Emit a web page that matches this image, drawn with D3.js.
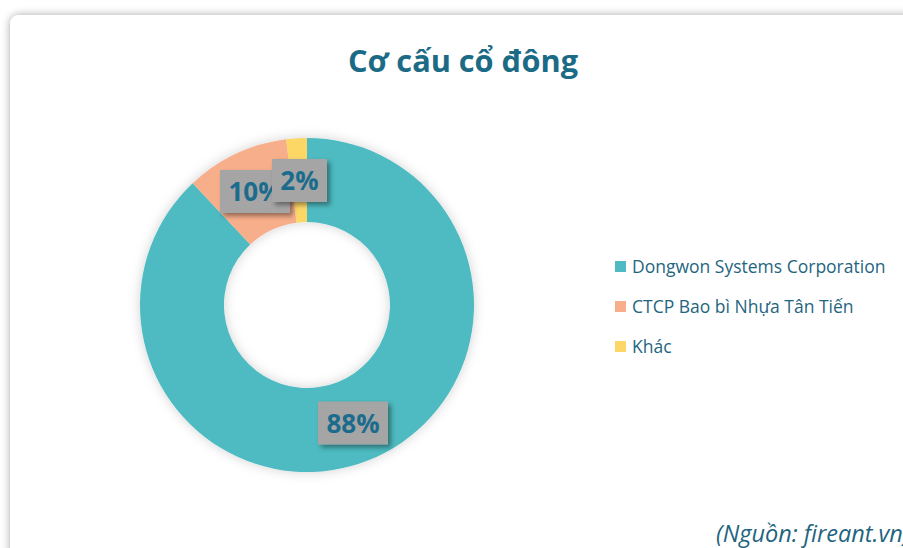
<!DOCTYPE html>
<html>
<head>
<meta charset="utf-8">
<script src="https://cdn.jsdelivr.net/npm/d3@7"></script>
<style>
  body { margin: 0; background: #fff; overflow: hidden; }
  svg { display: block; }
</style>
</head>
<body>
<svg id="chart" width="903" height="548"></svg>
<script>
var categories = ["Dongwon Systems Corporation", "CTCP Bao bì Nhựa Tân Tiến", "Khác"];
var values = [88, 10, 2];
var labels = ["88%", "10%", "2%"];
var colors = ["#4dbbc1", "#f7ae8b", "#fdd766"];

var svg = d3.select("#chart");
var font = "'Open Sans', 'Noto Sans', sans-serif";

var defs = svg.append("defs");
var card = defs.append("filter").attr("id", "cardShadow")
	.attr("x", "-10%").attr("y", "-10%").attr("width", "120%").attr("height", "120%");
card.append("feDropShadow").attr("dx", 0).attr("dy", 0).attr("stdDeviation", 4)
	.attr("flood-color", "#000").attr("flood-opacity", 0.35);
var pieSh = defs.append("filter").attr("id", "pieShadow")
	.attr("x", "-20%").attr("y", "-20%").attr("width", "140%").attr("height", "140%");
pieSh.append("feDropShadow").attr("dx", 0).attr("dy", 0).attr("stdDeviation", 6)
	.attr("flood-color", "#000").attr("flood-opacity", 0.18);
var boxSh = defs.append("filter").attr("id", "boxShadow")
	.attr("x", "-30%").attr("y", "-30%").attr("width", "160%").attr("height", "160%");
boxSh.append("feDropShadow").attr("dx", 3).attr("dy", 3).attr("stdDeviation", 2.5)
	.attr("flood-color", "#000").attr("flood-opacity", 0.4);

// card
svg.append("rect")
	.attr("x", 10).attr("y", 15).attr("width", 940).attr("height", 600)
	.attr("rx", 9).attr("fill", "#fff")
	.attr("filter", "url(#cardShadow)");

// title
svg.append("text")
	.attr("x", 463).attr("y", 72)
	.attr("text-anchor", "middle")
	.attr("font-family", font).attr("font-weight", "bold").attr("font-size", 30.7)
	.attr("fill", "#1c6b86")
	.text("Cơ cấu cổ đông");

// donut
var cx = 307, cy = 305, rOuter = 167, rInner = 83;
var pie = d3.pie().sort(null).value(function(d) { return d; });
var arcs = pie(values);
var arc = d3.arc().innerRadius(rInner).outerRadius(rOuter);

var g = svg.append("g").attr("transform", "translate(" + cx + "," + cy + ")");
g.append("g").attr("filter", "url(#pieShadow)")
	.selectAll("path")
	.data(arcs)
	.enter().append("path")
	.attr("d", arc)
	.attr("fill", function(d, i) { return colors[i]; });

// data labels
var labelPos = [[46, 118], [-52, -113.5], [-7.5, -124.5]];
var boxW = [70, 70, 55];
var lg = g.selectAll("g.lbl")
	.data(arcs)
	.enter().append("g")
	.attr("class", "lbl")
	.attr("transform", function(d, i) { return "translate(" + labelPos[i][0] + "," + labelPos[i][1] + ")"; });
lg.append("rect")
	.attr("x", function(d, i) { return -boxW[i] / 2; })
	.attr("y", -21.5)
	.attr("width", function(d, i) { return boxW[i]; })
	.attr("height", 43)
	.attr("fill", "#a5a5a5")
	.attr("filter", "url(#boxShadow)");
lg.append("text")
	.attr("text-anchor", "middle")
	.attr("y", 9.5)
	.attr("font-family", font).attr("font-weight", "bold").attr("font-size", 26)
	.attr("fill", "#1b6c8c")
	.text(function(d, i) { return labels[i]; });

// legend
var legend = svg.append("g").attr("transform", "translate(615,266)");
var item = legend.selectAll("g")
	.data(categories)
	.enter().append("g")
	.attr("transform", function(d, i) { return "translate(0," + (i * 40) + ")"; });
item.append("rect")
	.attr("x", 0).attr("y", -5).attr("width", 11).attr("height", 11)
	.attr("fill", function(d, i) { return colors[i]; });
item.append("text")
	.attr("x", 17).attr("y", 6.5)
	.attr("font-family", font).attr("font-size", 17.5)
	.attr("fill", "#1f6580")
	.text(function(d) { return d; });

// source
svg.append("text")
	.attr("x", 716).attr("y", 542)
	.attr("font-family", font).attr("font-style", "italic").attr("font-size", 23.5)
	.attr("fill", "#1f6580")
	.text("(Nguồn: fireant.vn)");
</script>
</body>
</html>
